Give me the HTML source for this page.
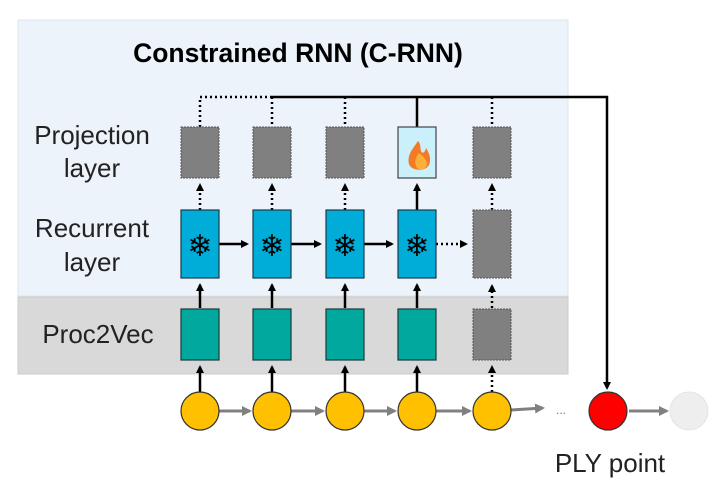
<!DOCTYPE html>
<html><head><style>body{margin:0;background:#fff}svg{display:block}</style></head><body>
<svg width="718" height="494" viewBox="0 0 718 494" xmlns="http://www.w3.org/2000/svg" font-family="Liberation Sans, sans-serif">
<defs>
<marker id="a" markerWidth="8" markerHeight="8" refX="6" refY="4" orient="auto" markerUnits="userSpaceOnUse"><path d="M0,0 L8,4 L0,8z" fill="#000"/></marker>
<marker id="g" markerWidth="10" markerHeight="10" refX="8" refY="5" orient="auto" markerUnits="userSpaceOnUse"><path d="M0,0 L10,5 L0,10z" fill="#808080"/></marker>
</defs>
<rect x="18" y="20" width="550" height="276" fill="#edf3fa" stroke="#dde4ec"/>
<rect x="18" y="297" width="550" height="77" fill="#d9d9d9" stroke="#ccc"/>
<text x="298" y="62" font-size="26.5" font-weight="bold" text-anchor="middle">Constrained RNN (C-RNN)</text>
<g font-size="26" fill="#222" text-anchor="middle">
<text x="92" y="144">Projection</text><text x="92" y="177">layer</text>
<text x="92" y="237">Recurrent</text><text x="92" y="271">layer</text>
<text x="98" y="343">Proc2Vec</text>
<text x="610" y="472">PLY point</text>
</g>
<path d="M200,127 V97 H270" stroke="#000" stroke-width="2.5" stroke-dasharray="2,3" fill="none"/>
<path d="M270,97 H607 V388" stroke="#000" stroke-width="2.5" fill="none" marker-end="url(#a)"/>
<g stroke="#000" stroke-width="2.5" stroke-dasharray="2,3">
<line x1="272" y1="97" x2="272" y2="127"/><line x1="345" y1="97" x2="345" y2="127"/><line x1="492" y1="97" x2="492" y2="127"/>
<line x1="200" y1="210" x2="200" y2="185" marker-end="url(#a)"/><line x1="272" y1="210" x2="272" y2="185" marker-end="url(#a)"/>
<line x1="345" y1="210" x2="345" y2="185" marker-end="url(#a)"/><line x1="492" y1="210" x2="492" y2="185" marker-end="url(#a)"/>
<line x1="436" y1="244" x2="466" y2="244" marker-end="url(#a)"/>
<line x1="492" y1="308" x2="492" y2="286" marker-end="url(#a)"/>
<line x1="492" y1="392" x2="492" y2="367" marker-end="url(#a)"/>
</g>
<g stroke="#000" stroke-width="2.5">
<line x1="417" y1="97" x2="417" y2="127"/>
<line x1="417" y1="210" x2="417" y2="185" marker-end="url(#a)"/>
<line x1="219" y1="244" x2="247" y2="244" marker-end="url(#a)"/>
<line x1="291" y1="244" x2="320" y2="244" marker-end="url(#a)"/>
<line x1="364" y1="244" x2="392" y2="244" marker-end="url(#a)"/>
<line x1="200" y1="308" x2="200" y2="285" marker-end="url(#a)"/><line x1="272" y1="308" x2="272" y2="285" marker-end="url(#a)"/>
<line x1="345" y1="308" x2="345" y2="285" marker-end="url(#a)"/><line x1="417" y1="308" x2="417" y2="285" marker-end="url(#a)"/>
<line x1="200" y1="392" x2="200" y2="367" marker-end="url(#a)"/><line x1="272" y1="392" x2="272" y2="367" marker-end="url(#a)"/>
<line x1="345" y1="392" x2="345" y2="367" marker-end="url(#a)"/><line x1="417" y1="392" x2="417" y2="367" marker-end="url(#a)"/>
</g>
<g fill="#808080" stroke="#555" stroke-dasharray="2,1">
<rect x="181" y="127" width="38" height="51"/><rect x="253" y="127" width="38" height="51"/>
<rect x="326" y="127" width="38" height="51"/><rect x="473" y="127" width="38" height="51"/>
<rect x="473" y="210" width="38" height="68"/><rect x="473" y="309" width="38" height="51"/>
</g>
<rect x="398" y="127" width="38" height="51" fill="#c9f0fb" stroke="#444" stroke-width="1.2"/>
<path d="M418,141 C412,150 407,155 409,164 C411,171 425,172 429,165 C432,158 428,151 426,148 C425,153 422,154 421,151 C420,147 421,144 418,141z" fill="#f47a23"/>
<path d="M419,153 C415,158 414,163 417,168 C420,171 427,169 427,163 C426,159 423,156 419,153z" fill="#fbb03b"/>
<g fill="#00acd8" stroke="#1a3a4a" stroke-width="1.2">
<rect x="181" y="210" width="38" height="68"/><rect x="253" y="210" width="38" height="68"/>
<rect x="326" y="210" width="38" height="68"/><rect x="398" y="210" width="38" height="68"/>
</g>
<g font-size="30" text-anchor="middle" fill="#000"><text x="200" y="256">❄</text><text x="272" y="256">❄</text><text x="345" y="256">❄</text><text x="417" y="256">❄</text></g>
<g fill="#00a89d" stroke="#1a3a3a" stroke-width="1.2">
<rect x="181" y="309" width="38" height="51"/><rect x="253" y="309" width="38" height="51"/>
<rect x="326" y="309" width="38" height="51"/><rect x="398" y="309" width="38" height="51"/>
</g>
<g stroke="#808080" stroke-width="3">
<line x1="219" y1="411" x2="250" y2="411" marker-end="url(#g)"/>
<line x1="291" y1="411" x2="323" y2="411" marker-end="url(#g)"/>
<line x1="364" y1="411" x2="395" y2="411" marker-end="url(#g)"/>
<line x1="436" y1="411" x2="470" y2="411" marker-end="url(#g)"/>
<line x1="511" y1="410" x2="543" y2="408" marker-end="url(#g)"/>
<line x1="629" y1="411" x2="667" y2="411" marker-end="url(#g)"/>
</g>
<text x="561" y="414" font-size="12" fill="#777" text-anchor="middle">...</text>
<g fill="#ffc000" stroke="#333" stroke-width="1.2">
<circle cx="200" cy="411" r="19"/><circle cx="272" cy="411" r="19"/><circle cx="345" cy="411" r="19"/>
<circle cx="417" cy="411" r="19"/><circle cx="492" cy="411" r="19"/>
</g>
<circle cx="608" cy="411" r="19" fill="#ff0000" stroke="#333" stroke-width="1.2"/>
<circle cx="689" cy="411" r="19" fill="#eeeeee" stroke="#e4e4e4"/>
</svg>
</body></html>
